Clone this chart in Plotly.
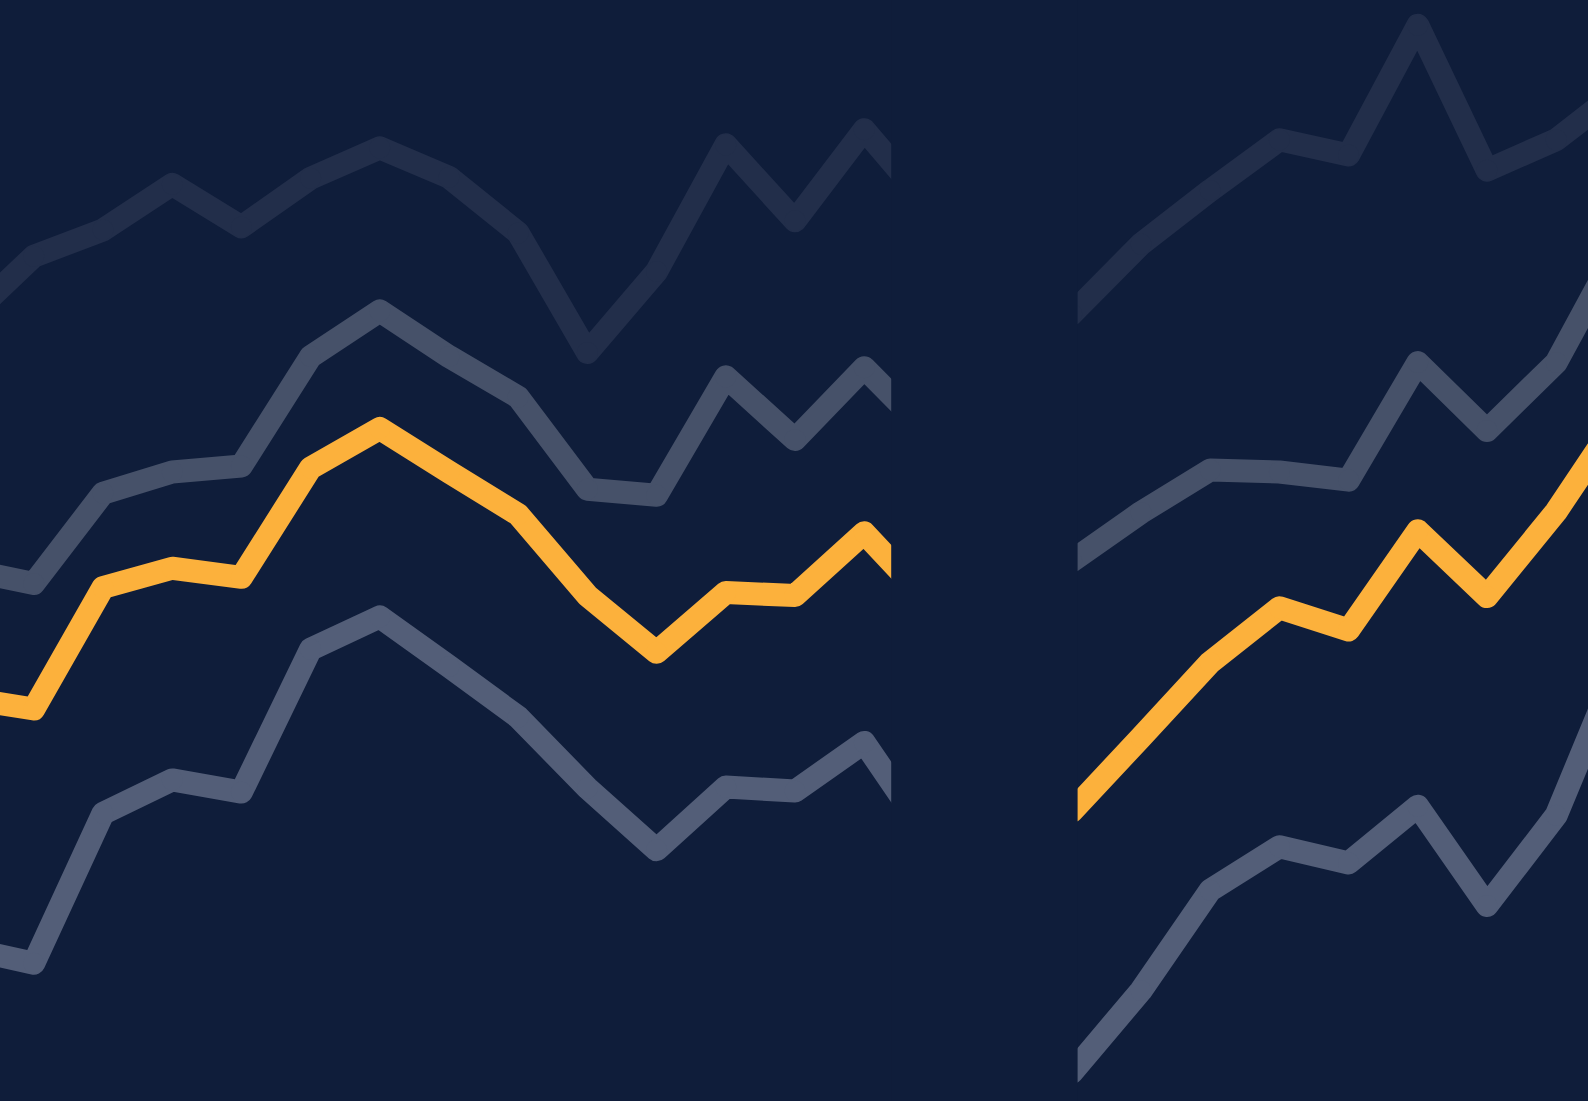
import plotly.graph_objects as go

# Positions along the horizontal (period index); -1 and 23 lie just outside the frame
periods = list(range(-1, 24))

# Series values (arbitrary units)
series_a = [769, 834, 860, 905, 863, 911, 941, 912, 857, 739, 819, 944, 869,
            959, 879, 847, 777, 846, 899, 949, 934, 1062, 919, 949, 1002]
series_b = [525, 511, 600, 621, 627, 735, 780, 735, 695, 604, 598, 715, 653,
            724, 655, 607, 533, 581, 623, 621, 613, 729, 662, 729, 855]
series_c = [398, 387, 507, 526, 517, 625, 664, 621, 579, 499, 443, 502, 499,
            561, 488, 437, 286, 359, 433, 487, 465, 563, 498, 582, 684]
series_d = [151, 136, 284, 317, 305, 446, 478, 429, 379, 309, 248, 310, 306,
            354, 254, 187, 28, 109, 208, 251, 235, 291, 193, 282, 447]

names = ["A", "B", "C", "D"]
values = [series_a, series_b, series_c, series_d]
colors = ["#222e4a", "#465169", "#fcb13c", "#535e78"]

BG = "#0f1d3a"
W, H = 1588, 1101
LW = 23

fig = go.Figure()
for name, vals, col in zip(names, values, colors):
    fig.add_trace(go.Scatter(
        x=periods, y=vals, name=name, mode="lines+markers",
        line=dict(color=col, width=LW, simplify=False),
        marker=dict(color=col, size=LW - 2, line=dict(width=0)),
        hoverinfo="skip", showlegend=False,
    ))

# Blank gap between the two visible windows
fig.add_shape(type="rect", xref="paper", yref="paper",
              x0=891.2 / W, x1=1077.6 / W, y0=-0.01, y1=1.01,
              fillcolor=BG, line=dict(width=0), layer="above")

fig.update_xaxes(visible=False, range=[-33.8 / 69.2, (W - 33.8) / 69.2])
fig.update_yaxes(visible=False, range=[0, 1087])
fig.update_layout(
    width=W, height=H,
    margin=dict(l=0, r=0, t=0, b=0),
    paper_bgcolor=BG, plot_bgcolor=BG,
)

post = (
    "document.body.style.margin='0';"
    "document.body.style.overflow='hidden';"
    "document.body.style.background='" + BG + "';"
    "document.querySelectorAll('path.js-line').forEach(function(p){"
    "p.style.strokeLinejoin='round';p.style.strokeLinecap='round';});"
)

fig.write_html(
    "out.html",
    config={"displayModeBar": False, "staticPlot": True},
    post_script=post,
)
